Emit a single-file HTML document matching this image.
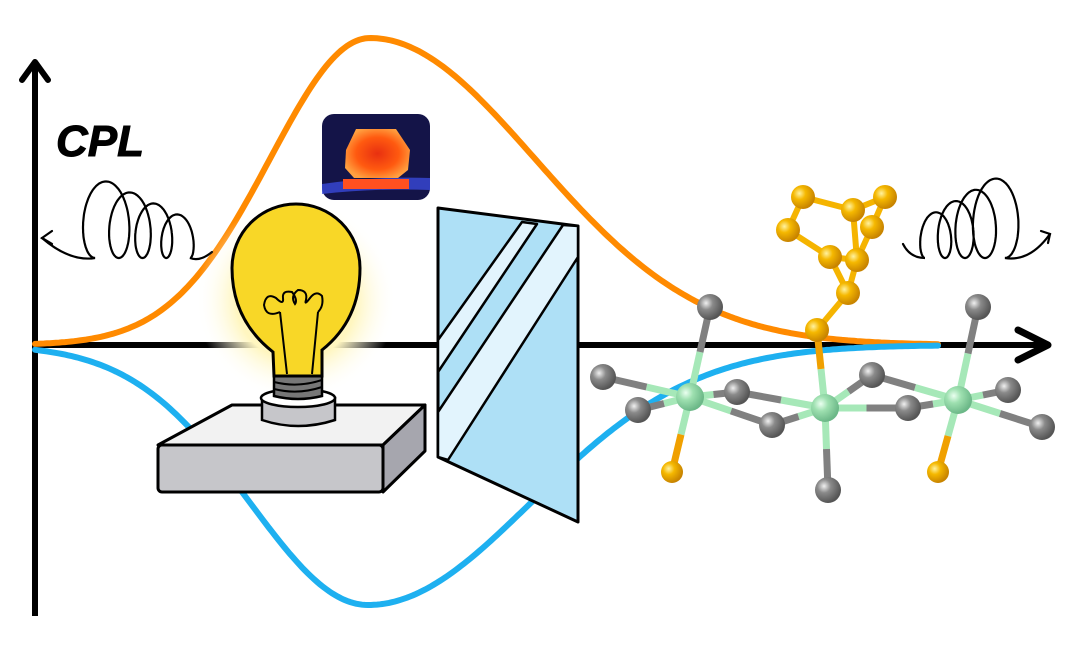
<!DOCTYPE html>
<html><head><meta charset="utf-8"><style>
html,body{margin:0;padding:0;background:#fff;}
svg{display:block;}
</style></head><body>
<svg id="s" width="1080" height="661" viewBox="0 0 1080 661" xmlns="http://www.w3.org/2000/svg">
<defs>
<radialGradient id="gG" cx="35%" cy="35%" r="65%"><stop offset="0" stop-color="#f0f0f0"/><stop offset="0.4" stop-color="#8a8a8a"/><stop offset="1" stop-color="#555"/></radialGradient>
<radialGradient id="gN" cx="35%" cy="35%" r="65%"><stop offset="0" stop-color="#eafff0"/><stop offset="0.4" stop-color="#9ee0b0"/><stop offset="1" stop-color="#6cb888"/></radialGradient>
<radialGradient id="gS" cx="35%" cy="35%" r="65%"><stop offset="0" stop-color="#fff2a0"/><stop offset="0.4" stop-color="#f5b800"/><stop offset="1" stop-color="#c88400"/></radialGradient>
<radialGradient id="glow" cx="50%" cy="50%" r="50%"><stop offset="0.6" stop-color="#fff6c0"/><stop offset="1" stop-color="#fff" stop-opacity="0"/></radialGradient>
<radialGradient id="hot" cx="50%" cy="50%" r="55%"><stop offset="0" stop-color="#e83010"/><stop offset="0.6" stop-color="#ff5a10"/><stop offset="1" stop-color="#ffa040"/></radialGradient>
</defs>
<line x1="35" y1="64" x2="35" y2="616" stroke="#000" stroke-width="6"/>
<polyline points="22,80 35,62 48,80" fill="none" stroke="#000" stroke-width="6" stroke-linecap="round" stroke-linejoin="round"/>
<line x1="35" y1="345" x2="1046" y2="345" stroke="#000" stroke-width="6"/>
<polyline points="1018,330 1048,345 1018,360" fill="none" stroke="#000" stroke-width="7" stroke-linecap="round" stroke-linejoin="round"/>
<g id="curves"></g>
<text x="56" y="156" font-family="Liberation Sans, sans-serif" font-size="44" font-weight="bold" font-style="italic" fill="#000" stroke="#000" stroke-width="1">CPL</text>
<g id="spirals" fill="none" stroke="#000" stroke-width="2.2" stroke-linecap="round"></g>
<rect x="322" y="114" width="108" height="86" rx="12" fill="#141448"/>
<path d="M322 184 Q376 176 430 178 L430 190 Q376 188 322 194Z" fill="#3848d8" opacity="0.8"/>
<rect x="343" y="179" width="66" height="10" fill="#ff5020"/>
<path d="M346 150 L356 129 L396 129 L410 150 L408 170 L398 178 L354 178 L345 168Z" fill="url(#hot)"/>
<circle cx="296" cy="300" r="100" fill="url(#glow)"/>
<polygon points="158,445 232,405 425,405 383,445" fill="#f2f2f2" stroke="#000" stroke-width="3" stroke-linejoin="round"/>
<polygon points="383,445 425,405 425,451 383,492" fill="#a6a6ae" stroke="#000" stroke-width="3" stroke-linejoin="round"/>
<rect x="158" y="445" width="225" height="47" rx="4" fill="#c6c6ca" stroke="#000" stroke-width="3"/>
<path d="M262 398 L262 420 Q298 432 335 420 L335 398Z" fill="#c6c6ca" stroke="#000" stroke-width="2.5"/>
<ellipse cx="298" cy="398" rx="37" ry="9" fill="#fff" stroke="#000" stroke-width="2.5"/>
<path d="M274 376 L274 396 Q298 402 322 396 L322 376Z" fill="#777" stroke="#000" stroke-width="2.5"/>
<path d="M274 382 Q298 388 322 380 M274 389 Q298 395 322 387" stroke="#000" stroke-width="2" fill="none"/>
<path d="M274 376 L273 352 Q232 320 232 268 A64 64 0 1 1 360 268 Q360 320 322 350 L322 376 Z" fill="#f8d727" stroke="#000" stroke-width="3"/>
<g fill="none" stroke="#000" stroke-width="2">
<path d="M287 374 L280 312 M312 374 L318 312"/>
<path d="M280 312 Q266 318 264 305 Q266 292 276 298 Q284 306 283 298 Q282 290 292 292 Q298 300 295 304 Q290 296 298 290 Q308 290 306 300 Q304 306 310 298 Q316 290 322 296 Q324 306 318 312"/>
</g>
<polygon points="438,208 578,226 578,522 438,457" fill="#aee0f6" stroke="#000" stroke-width="3" stroke-linejoin="round"/>
<polygon points="438,340 522,222 537,224 438,372" fill="#e2f4fd" stroke="#000" stroke-width="2.5" stroke-linejoin="round"/>
<polygon points="438,412 563,225 578,226 578,257 448,460 438,457" fill="#e2f4fd" stroke="#000" stroke-width="2.5" stroke-linejoin="round"/>
<g id="mol"></g>
</svg>
<script>
var NS="http://www.w3.org/2000/svg";
function el(p,t,a){var e=document.createElementNS(NS,t);for(var k in a)e.setAttribute(k,a[k]);document.getElementById(p).appendChild(e);return e;}
function gauss(x0,amp,sl,sr,col){var d="";for(var x=35;x<=940;x+=3){var s=x<x0?sl:sr;var y=345+amp*Math.exp(-(x-x0)*(x-x0)/(2*s*s));d+=(x==35?"M":"L")+x+" "+y.toFixed(1);}
el("curves","path",{d:d,fill:"none",stroke:col,"stroke-width":6,"stroke-linecap":"round"});}
gauss(370,-307,100,165,"#ff8a00");
gauss(368,260,118,163,"#1eb0f0");
// loops: "l" shapes; dir=-1 moves left
function spiral(xs,xe,yc,n,hs,he,dir){var d="";var N=500;for(var i=0;i<=N;i++){var t=i/N;var ang=t*n*2*Math.PI;var h=hs+(he-hs)*t;var w=h*0.22;var x=xs+(xe-xs)*t - dir*w*Math.sin(ang);var y=yc - h*(1-Math.cos(ang))/2;d+=(i?"L":"M")+x.toFixed(1)+" "+y.toFixed(1);}return d;}
el("spirals","path",{d:"M212 252 Q200 262 190 258 "+spiral(190,95,258,4,38,82,-1).replace(/^M/,"L")+" Q70 262 42 238"});
el("spirals","polyline",{points:"52,231 42,238 52,244"});
el("spirals","path",{d:"M903 244 Q910 258 925 258 "+spiral(925,1005,258,4,40,85,1).replace(/^M/,"L")+" Q1030 262 1050 234"});
el("spirals","polyline",{points:"1041,231 1050,234 1048,243"});
var G={g1:[690,397],g2:[825,408],g3:[958,400]};
var gray=[[710,307],[603,377],[638,410],[737,392],[772,425],[872,375],[908,408],[978,307],[1008,390],[1042,427],[828,490]];
var orn=[[672,472],[938,472]];
var S=[[817,330],[848,293],[857,260],[830,257],[872,227],[853,210],[885,197],[803,197],[788,230]];
function bond(a,b,ca,cb){var m=[(a[0]+b[0])/2,(a[1]+b[1])/2];el("mol","line",{x1:a[0],y1:a[1],x2:m[0],y2:m[1],stroke:ca,"stroke-width":7});el("mol","line",{x1:m[0],y1:m[1],x2:b[0],y2:b[1],stroke:cb,"stroke-width":7});}
var GN="#a6e8b8",GY="#808080",OR="#f0a000";
[[G.g1,gray[0]],[G.g1,gray[1]],[G.g1,gray[2]],[G.g1,gray[3]],[G.g1,gray[4]],[G.g2,gray[3]],[G.g2,gray[4]],[G.g2,gray[5]],[G.g2,gray[6]],[G.g2,gray[10]],[G.g3,gray[5]],[G.g3,gray[6]],[G.g3,gray[7]],[G.g3,gray[8]],[G.g3,gray[9]]].forEach(function(p){bond(p[0],p[1],GN,GY);});
bond(G.g1,orn[0],GN,OR);bond(G.g3,orn[1],GN,OR);bond(G.g2,S[0],GN,OR);
[[7,5],[5,6],[5,2],[6,4],[4,2],[7,8],[8,3],[3,2],[3,1],[2,1],[1,0]].forEach(function(p){el("mol","line",{x1:S[p[0]][0],y1:S[p[0]][1],x2:S[p[1]][0],y2:S[p[1]][1],stroke:"#f5b400","stroke-width":6});});
gray.forEach(function(p){el("mol","circle",{cx:p[0],cy:p[1],r:13,fill:"url(#gG)"});});
for(var k in G)el("mol","circle",{cx:G[k][0],cy:G[k][1],r:14,fill:"url(#gN)"});
orn.forEach(function(p){el("mol","circle",{cx:p[0],cy:p[1],r:11,fill:"url(#gS)"});});
S.forEach(function(p){el("mol","circle",{cx:p[0],cy:p[1],r:12,fill:"url(#gS)"});});
</script>
</body></html>
